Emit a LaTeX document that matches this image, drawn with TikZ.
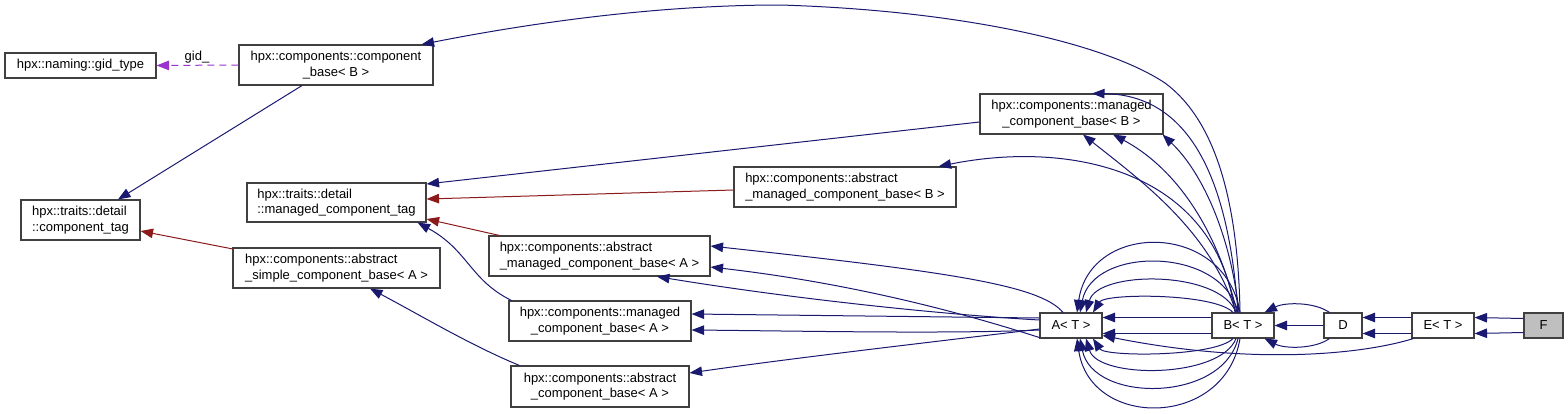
\documentclass[tikz,border=0pt]{standalone}
\usepackage{fontspec}
\setmainfont{Liberation Sans}
\usetikzlibrary{arrows.meta,calc}
\definecolor{eblue}{HTML}{191970}
\definecolor{ered}{HTML}{8B1A1A}
\definecolor{epurple}{HTML}{9A32CD}
\definecolor{boxline}{HTML}{404040}
\definecolor{fgray}{HTML}{BFBFBF}
\begin{document}
\begin{tikzpicture}[x=1pt,y=-1pt,
  cls/.style={draw=boxline, line width=1.1pt, fill=white, inner sep=0pt,
    font=\fontsize{13}{15.7}\selectfont},
  lbl/.style={inner sep=0pt, font=\fontsize{13}{15.7}\selectfont},
  inh/.style={draw=eblue, line width=1pt, -{Triangle[length=12.5pt,width=9.5pt]}},
  inhred/.style={draw=ered, line width=1pt, -{Triangle[length=12.5pt,width=9.5pt]}},
  usage/.style={draw=epurple, line width=1pt, dash pattern=on 7pt off 5pt,
    -{Triangle[length=12.5pt,width=9.5pt]}}]
\useasboundingbox (0,0) rectangle (1568,413);
% nodes
\node[cls, minimum width=151pt, minimum height=25pt] (gid) at (80.5,65.5) {hpx::naming::gid\_type};
\node[cls, minimum width=194pt, minimum height=40pt, align=center] (cb) at (336,65) {hpx::components::component\\\_base< B >};
\node[cls, minimum width=119pt, minimum height=40pt, align=left] (ctag) at (80.5,220) {hpx::traits::detail\\::component\_tag};
\node[cls, minimum width=179pt, minimum height=39pt, align=left] (mctag) at (336.5,202.5) {hpx::traits::detail\\::managed\_component\_tag};
\node[cls, minimum width=207pt, minimum height=40pt, align=left] (asimple) at (336.5,268) {hpx::components::abstract\\\_simple\_component\_base< A >};
\node[cls, minimum width=183pt, minimum height=40pt, align=center] (mB) at (1071.5,114) {hpx::components::managed\\\_component\_base< B >};
\node[cls, minimum width=222pt, minimum height=40pt, align=left] (amB) at (845,187) {hpx::components::abstract\\\_managed\_component\_base< B >};
\node[cls, minimum width=221pt, minimum height=40pt, align=left] (amA) at (599.5,256) {hpx::components::abstract\\\_managed\_component\_base< A >};
\node[cls, minimum width=182pt, minimum height=40pt, align=center] (mA) at (600,321) {hpx::components::managed\\\_component\_base< A >};
\node[cls, minimum width=178pt, minimum height=41pt, align=center] (acA) at (600,386.5) {hpx::components::abstract\\\_component\_base< A >};
\node[cls, minimum width=62pt, minimum height=25pt] (A) at (1071,325.5) {A< T >};
\node[cls, minimum width=62pt, minimum height=25pt] (B) at (1243,325.5) {B< T >};
\node[cls, minimum width=38pt, minimum height=25pt] (D) at (1343,325.5) {D};
\node[cls, minimum width=62pt, minimum height=25pt] (E) at (1443,325.5) {E< T >};
\node[cls, minimum width=39pt, minimum height=25pt, fill=fgray] (F) at (1543.5,325.5) {F};
% edges
\draw[usage] (cb.west) -- (gid.east);
\node[lbl] (gidlbl) at (197,57) {gid\_};
\draw[inh] ($(cb.south)+(-34,0)$) -- ($(ctag.north)+(37.5,0)$);
\draw[inhred] ($(asimple)+(-103.5,-19)$) -- ($(ctag.east)+(0,11)$);
\draw[inh] ($(mB.west)+(0,8)$) -- ($(mctag.east)+(0,-18.5)$);
\draw[inhred] ($(amB.west)+(0,3)$) -- ($(mctag.east)+(0,-3.5)$);
\draw[inhred] ($(amA.north west)+(11,0)$) -- ($(mctag.east)+(0,16.5)$);
\draw[inh] ($(mA.north west)+(3,0)$) .. controls (470,280) and (468,250) .. ($(mctag.south east)+(-9,0)$);
\draw[inh] ($(acA.north west)+(9,0)$) .. controls (470,345) and (420,315) .. ($(asimple.south)+(33.5,0)$);
% B -> component_base<B>
\draw[inh] ($(B.north)+(-3,0)$) .. controls (1238,200) and (1215,120) .. (1165,83)
  .. controls (1100,40) and (950,10) .. (780,5)
  .. controls (650,5) and (520,25) .. ($(cb.north east)+(-12,0)$);
% B -> managed<B>
\draw[inh] ($(B.north)+(-5,0)$) .. controls (1230,200) and (1200,95) .. ($(mB.north)+(20.5,0)$);
\draw[inh] ($(B.north)+(-7,0)$) .. controls (1210,230) and (1140,180) .. ($(mB.south)+(11.5,0)$);
\draw[inh] ($(B.north)+(-6,0)$) .. controls (1215,220) and (1170,165) .. ($(mB.south)+(41.5,0)$);
\draw[inh] ($(B.north)+(-4,0)$) .. controls (1230,230) and (1200,170) .. ($(mB.south east)+(-1,0)$);
% B -> abstract_managed<B>
\draw[inh] ($(B.north)+(-8,0)$) .. controls (1215,170) and (1070,140) .. ($(amB.north east)+(-18,0)$);
% B -> A
\draw[inh] ($(B.north)+(-3,0)$) .. controls (1225,221) and (1090,221) .. ($(A.north)+(6,0)$);
\draw[inh] ($(B.north)+(-5,0)$) .. controls (1222,246) and (1093,246) .. ($(A.north)+(9,0)$);
\draw[inh] ($(B.north)+(-7,0)$) .. controls (1220,270) and (1098,270) .. ($(A.north)+(15,0)$);
\draw[inh] ($(B.north)+(-10,0)$) .. controls (1215,293) and (1105,293) .. ($(A.north)+(22,0)$);
\draw[inh] ($(B.west)+(0,-8)$) -- ($(A.east)+(0,-8)$);
\draw[inh] ($(B.west)+(0,8)$) -- ($(A.east)+(0,8)$);
\draw[inh] ($(B.south)+(-10,0)$) .. controls (1215,357) and (1105,357) .. ($(A.south)+(22,0)$);
\draw[inh] ($(B.south)+(-7,0)$) .. controls (1220,379) and (1098,379) .. ($(A.south)+(15,0)$);
\draw[inh] ($(B.south)+(-5,0)$) .. controls (1222,403) and (1093,403) .. ($(A.south)+(9,0)$);
\draw[inh] ($(B.south)+(-3,0)$) .. controls (1225,429) and (1090,429) .. ($(A.south)+(6,0)$);
% E -> A
\draw[inh] ($(E.south west)+(2,0)$) .. controls (1360,355) and (1250,365) .. ($(A.east)+(0,10)$);
% D -> B
\draw[inh] ($(D.north west)+(6,0)$) .. controls (1315,302) and (1285,302) .. ($(B.north east)+(-10,0)$);
\draw[inh] (D.west) -- (B.east);
\draw[inh] ($(D.south west)+(6,0)$) .. controls (1315,349) and (1285,349) .. ($(B.south east)+(-10,0)$);
% E -> D
\draw[inh] ($(E.west)+(0,-8)$) -- ($(D.east)+(0,-8)$);
\draw[inh] ($(E.west)+(0,8)$) -- ($(D.east)+(0,8)$);
% F -> E
\draw[inh] ($(F.west)+(0,-7)$) -- ($(E.east)+(0,-8)$);
\draw[inh] ($(F.west)+(0,7)$) -- ($(E.east)+(0,8)$);
% A -> left bases
\draw[inh] ($(A.north)+(-8,0)$) .. controls (1040,285) and (950,272) .. ($(amA.east)+(0,-10)$);
\draw[inh] ($(A.south west)+(0,-1)$) .. controls (960,312) and (850,283) .. ($(amA.east)+(0,11)$);
\draw[inh] ($(A.west)+(0,-5.5)$) .. controls (950,315) and (800,300) .. ($(amA.south)+(57.5,0)$);
\draw[inh] ($(A.west)+(0,-7.5)$) -- ($(mA.east)+(0,-7)$);
\draw[inh] ($(A.west)+(0,4.5)$) .. controls (950,334) and (800,331) .. ($(mA.east)+(0,9)$);
\draw[inh] ($(A.west)+(0,3.5)$) .. controls (950,340) and (800,357) .. ($(acA.east)+(0,-13.5)$);
\end{tikzpicture}
\end{document}
